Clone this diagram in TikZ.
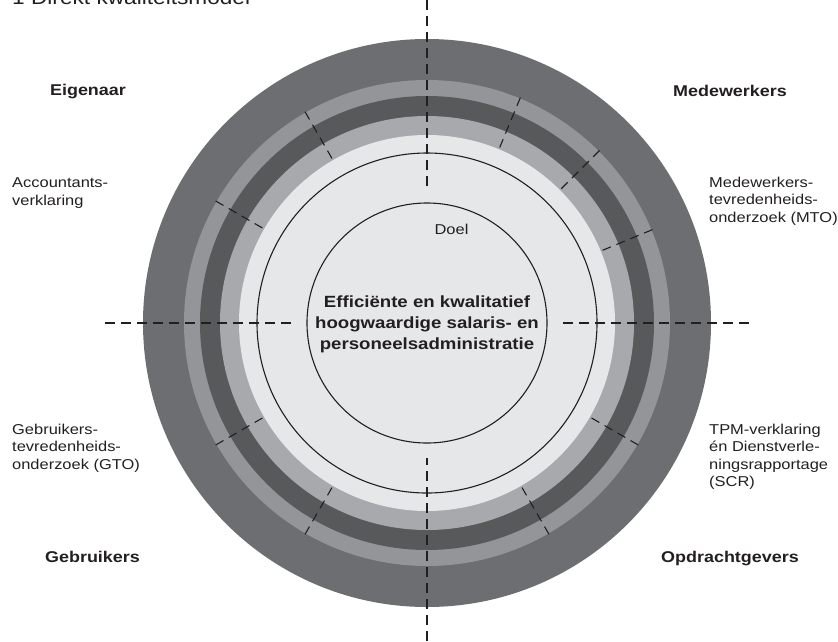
\documentclass[tikz,border=0pt]{standalone}
\usepackage{fontspec}
\setmainfont{Liberation Sans}[FakeStretch=1.15]
\definecolor{ringA}{HTML}{6D6E71}
\definecolor{ringB}{HTML}{939598}
\definecolor{ringC}{HTML}{58595B}
\definecolor{ringD}{HTML}{A7A9AC}
\definecolor{ringE}{HTML}{E6E7E8}
\definecolor{ink}{HTML}{231F20}
\begin{document}
\begin{tikzpicture}[x=1pt,y=-1pt,
  axisline/.style={ink, line width=1.1pt, dash pattern=on 10pt off 6pt},
  tickline/.style={ink, line width=1.1pt, dash pattern=on 9pt off 6pt},
  ringline/.style={ink, line width=1.1pt},
  smalltext/.style={inner sep=0pt, align=left, anchor=north west, font=\fontsize{14.3}{17.5}\selectfont, text=ink},
  boldlabel/.style={inner sep=0pt, anchor=base, font=\fontsize{15.6}{18}\selectfont\bfseries, text=ink},
]
\useasboundingbox (0,0) rectangle (838,641);
\fill[white] (0,0) rectangle (838,641);
\coordinate (c) at (427,323);
% rings
\fill[ringA] (c) circle[radius=284pt];
\fill[ringB] (c) circle[radius=243pt];
\fill[ringC] (c) circle[radius=227pt];
\fill[ringD] (c) circle[radius=207pt];
\fill[ringE] (c) circle[radius=188pt];
\draw[ringline] (c) circle[radius=170pt];
\draw[ringline] (c) circle[radius=120pt];
% axes
\coordinate (vtop) at (427,0);
\coordinate (vtopend) at (427,192);
\coordinate (vbotstart) at (427,458);
\coordinate (vbot) at (427,641);
\coordinate (hleft) at (105,323);
\coordinate (hleftend) at (293,323);
\coordinate (hrightstart) at (561,323);
\coordinate (hright) at (749,323);
\draw[axisline] (vtop) -- (vtopend);
\draw[axisline] (vbot) -- (vbotstart);
\draw[axisline] (hleft) -- (hleftend);
\draw[axisline] (hright) -- (hrightstart);
% radial ticks
\foreach \a in {22.5,45,67.5,120,150,210,240,300,330}{
  \draw[tickline] ([shift={(\a:244pt)}]c) -- ([shift={(\a:188pt)}]c);
}
% title (cut off at top)
\node[anchor=base west, inner sep=0pt, font=\fontsize{19.7}{22}\selectfont, text=ink] (title) at (12,4) {1 Direkt kwaliteitsmodel};
% centre
\node[inner sep=0pt, align=center, font=\fontsize{16.2}{21}\selectfont\bfseries, text=ink] (goal) at (427,324.8) {Efficiënte en kwalitatief\\hoogwaardige salaris- en\\personeelsadministratie};
\node[anchor=base, inner sep=0pt, font=\fontsize{14.3}{17.5}\selectfont, text=ink] (doel) at (451.5,234) {Doel};
% quadrant labels
\node[boldlabel] (eig) at (88,95.5) {Eigenaar};
\node[boldlabel] (mede) at (730,96) {Medewerkers};
\node[boldlabel] (gebr) at (92.5,562.5) {Gebruikers};
\node[boldlabel] (opdr) at (730,562.5) {Opdrachtgevers};
% instruments
\node[smalltext] (acc) at (12,177.6) {Accountants-\\verklaring};
\node[smalltext] (mto) at (709,176.6) {Medewerkers-\\tevredenheids-\\onderzoek (MTO)};
\node[smalltext] (gto) at (12,423.5) {Gebruikers-\\tevredenheids-\\onderzoek (GTO)};
\node[smalltext] (tpm) at (709,423.6) {TPM-verklaring\\én Dienstverle-\\ningsrapportage\\(SCR)};
\end{tikzpicture}
\end{document}
